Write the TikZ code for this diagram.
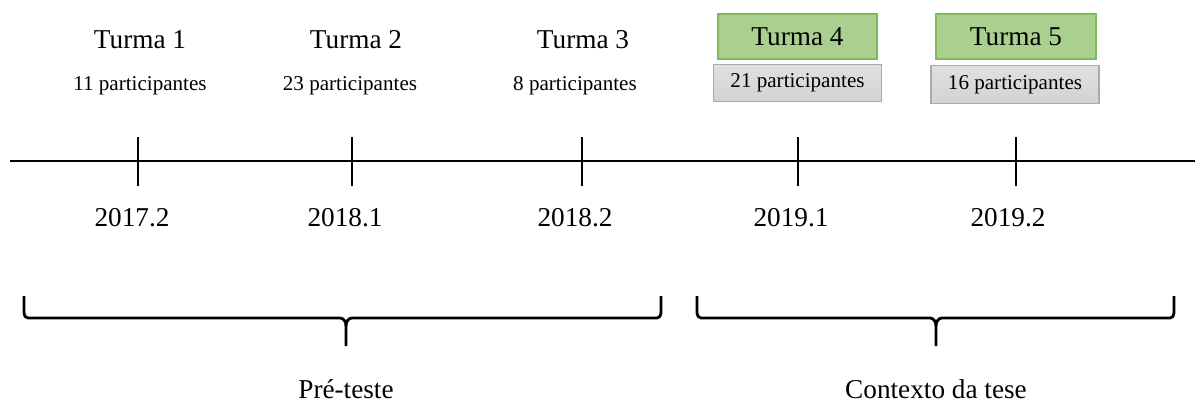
\documentclass[tikz,border=0pt]{standalone}
\usepackage{fontspec}
\setmainfont{Liberation Serif}
\definecolor{boxgreen}{HTML}{A9D08E}
\definecolor{edgegreen}{HTML}{7DBB5A}
\definecolor{boxgray}{HTML}{D3D3D3}
\definecolor{edgegray}{HTML}{AAAAAA}
\tikzset{
    turma/.style={font=\fontsize{15.5}{18}\selectfont},
    partic/.style={font=\fontsize{12}{14}\selectfont},
    ano/.style={font=\fontsize{15.5}{18}\selectfont},
    turmabox/.style={turma, draw=edgegreen, fill=boxgreen, line width=0.8pt,
        minimum width=3.18cm, minimum height=0.9cm, inner sep=0pt},
    particbox/.style={partic, draw=edgegray, top color=boxgray!70, bottom color=boxgray,
        line width=0.8pt, minimum width=3.37cm, minimum height=0.75cm, inner sep=0pt},
    chave/.style={line width=1.6pt, line join=round}
}
\newcommand{\chaveaberta}[3]{% left x, middle x, right x
    \draw[chave] (#1,2.18) -- (#1,1.84) to[out=-90,in=180] (#1+0.08,1.74)
        -- (#2-0.12,1.74) to[out=0,in=90] (#2,1.58) -- (#2,1.18);
    \draw[chave] (#3,2.18) -- (#3,1.84) to[out=-90,in=0] (#3-0.08,1.74)
        -- (#2+0.12,1.74) to[out=180,in=90] (#2,1.58);
}
\begin{document}
\begin{tikzpicture}[scale = 1]
    \useasboundingbox (0,0) rectangle (23.9,8.1);
    % linha do tempo
    \coordinate (ini) at (0.2,4.88);
    \coordinate (fim) at (23.9,4.88);
    \draw [line width=1.1pt] (ini) -- (fim);
    \foreach \x/\nome in {2.76/a, 7.04/b, 11.64/c, 15.96/d, 20.32/e} {
        \coordinate (t\nome) at (\x,5.36);
        \coordinate (b\nome) at (\x,4.38);
        \draw [line width=1.1pt] (t\nome) -- (b\nome);
    }
    % anos
    \node[ano] (ano1) at (2.64,3.74) {2017.2};
    \node[ano] (ano2) at (6.9,3.74) {2018.1};
    \node[ano] (ano3) at (11.5,3.74) {2018.2};
    \node[ano] (ano4) at (15.82,3.74) {2019.1};
    \node[ano] (ano5) at (20.16,3.74) {2019.2};
    % turmas
    \node[turma] (turma1) at (2.8,7.3) {Turma 1};
    \node[turma] (turma2) at (7.12,7.3) {Turma 2};
    \node[turma] (turma3) at (11.66,7.3) {Turma 3};
    \node[turmabox] (turma4) at (15.95,7.37) {Turma 4};
    \node[turmabox, minimum width=3.2cm] (turma5) at (20.32,7.37) {Turma 5};
    \node[partic] (part1) at (2.8,6.38) {11 participantes};
    \node[partic] (part2) at (7.0,6.38) {23 participantes};
    \node[partic] (part3) at (11.5,6.38) {8 participantes};
    \node[particbox] (part4) at (15.95,6.44) {21 participantes};
    \node[particbox, minimum width=3.36cm] (part5) at (20.3,6.41) {16 participantes};
    % chaves
    \chaveaberta{0.48}{6.92}{13.22}
    \chaveaberta{13.94}{18.72}{23.48}
    \node[ano] (pre) at (6.92,0.32) {Pré-teste};
    \node[ano] (tese) at (18.72,0.32) {Contexto da tese};
\end{tikzpicture}
\end{document}
